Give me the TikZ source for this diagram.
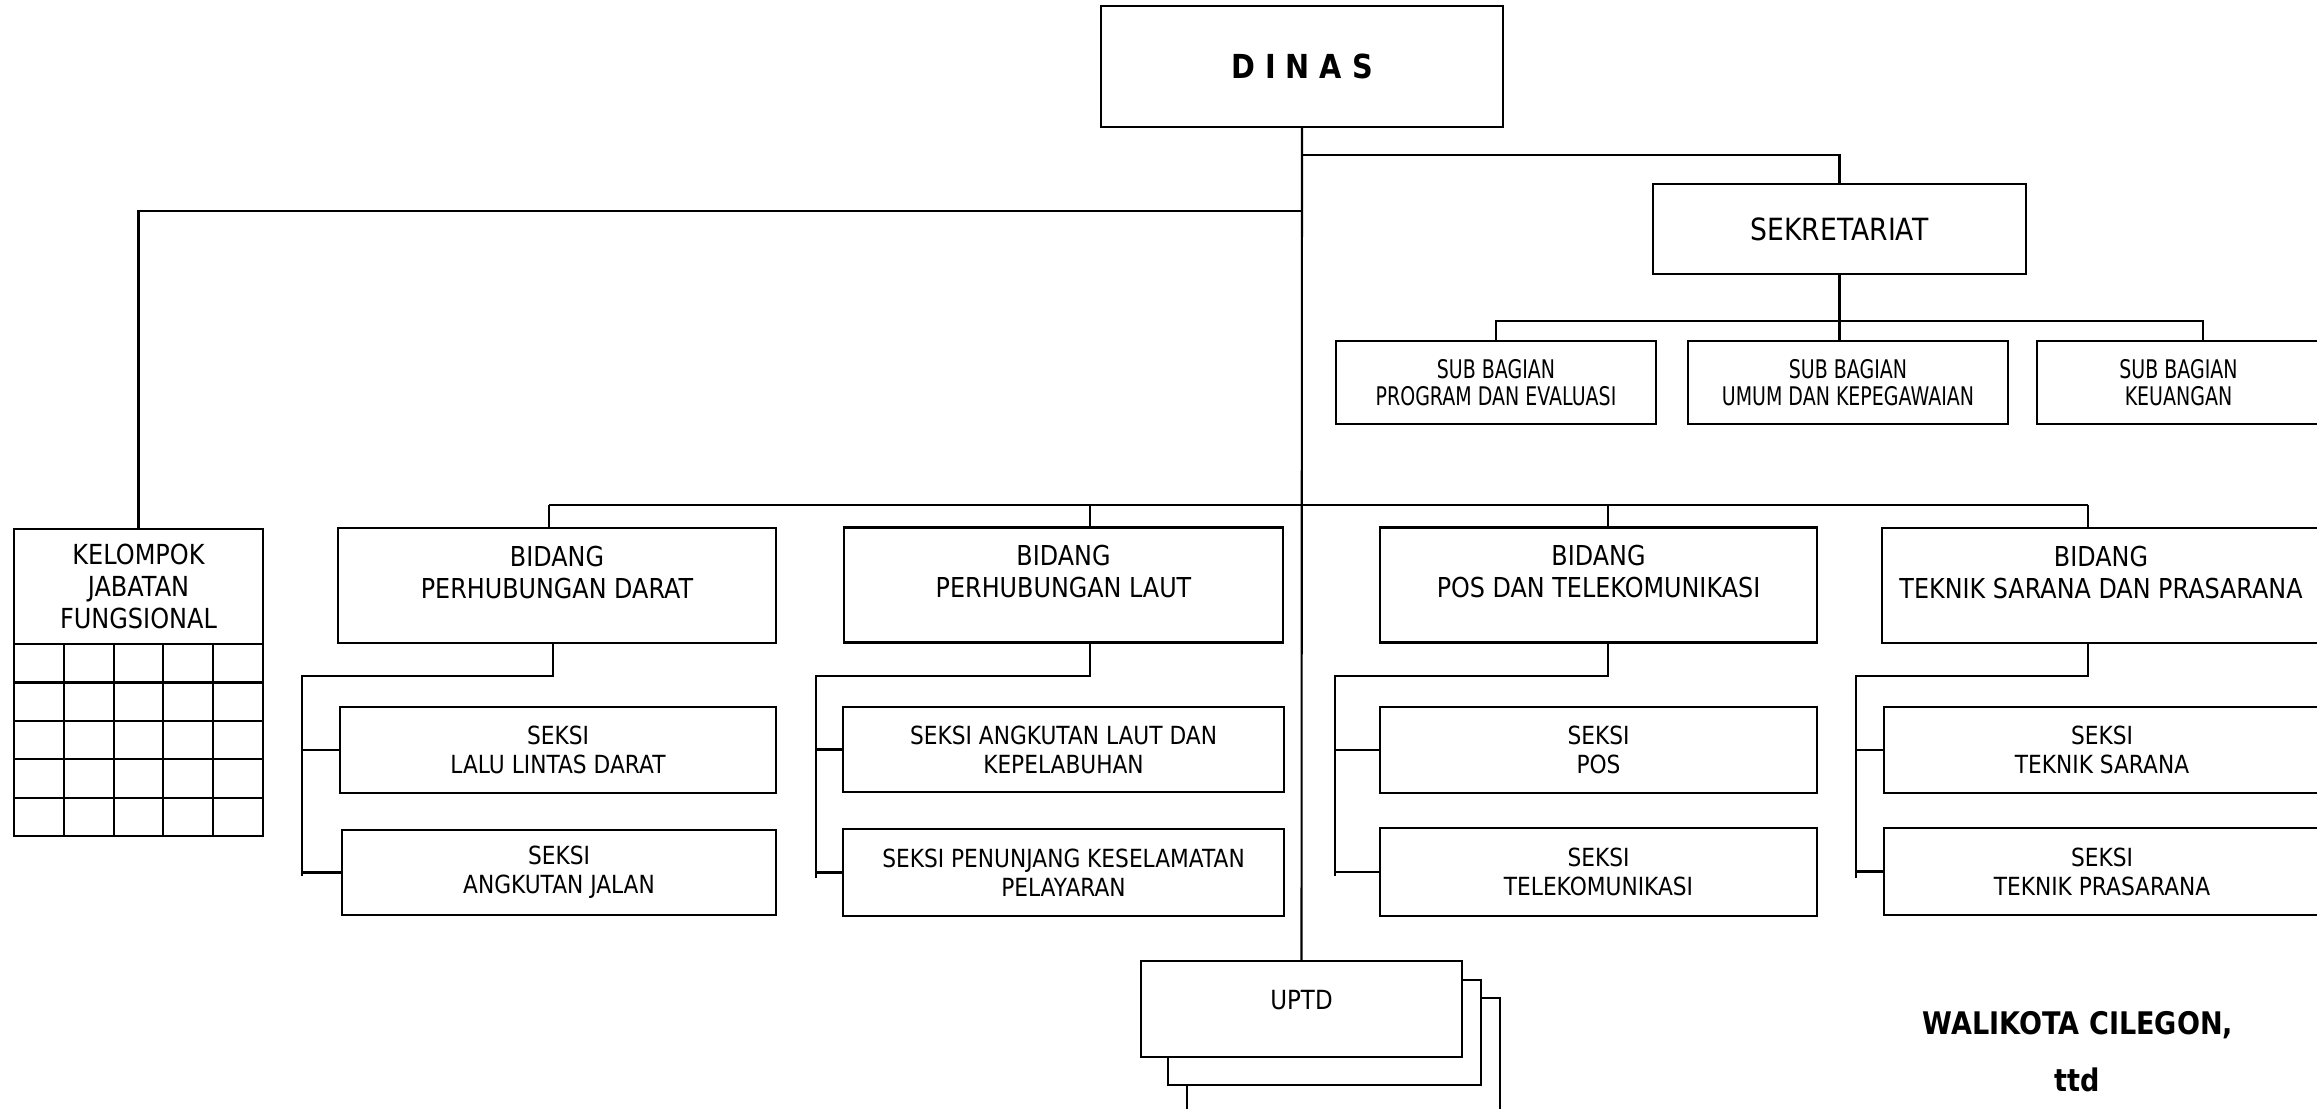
\documentclass[tikz,border=0pt]{standalone}
\usepackage{fontspec}
\setmainfont{DejaVu Sans}[FakeStretch=0.87]
\newfontfamily\subfont{DejaVu Sans}[FakeStretch=0.74]
\usetikzlibrary{positioning}
\tikzset{
	box/.style={draw, fill=white, inner sep=0pt, outer sep=0pt, align=center},
	bidang/.style={box, minimum width=4.38cm, minimum height=1.15cm},
	seksi/.style={box, minimum width=4.36cm, minimum height=0.86cm, font=\fontsize{7.1pt}{8.3pt}\selectfont},
	subbag/.style={box, minimum width=3.2cm, minimum height=0.83cm, font=\subfont\fontsize{7.3pt}{7.7pt}\selectfont},
	toplabel/.style={anchor=north, inner sep=0pt, align=center, yshift=-0.17cm, font=\fontsize{7.8pt}{9.1pt}\selectfont},
	sign/.style={inner sep=0pt, font=\bfseries\fontsize{8.85pt}{10pt}\selectfont},
}
\begin{document}
\begin{tikzpicture}[x=0.01cm, y=-0.01cm, line width=0.6pt]
	\useasboundingbox (0,0) rectangle (2317,1108);
	\clip (0,0) rectangle (2317,1108);
	\node[box, minimum width=4.02cm, minimum height=1.21cm, font=\bfseries\fontsize{9.4pt}{11pt}\selectfont] (dinas) at (1302,66.5) {D I N A S};
	\node[box, minimum width=3.73cm, minimum height=0.9cm, font=\fontsize{8.7pt}{10pt}\selectfont] (sekre) at (1839.5,229) {SEKRETARIAT};
	\node[subbag] (sb1) at (1496,382.5) {SUB BAGIAN\\PROGRAM DAN EVALUASI};
	\node[subbag] (sb2) at (1848,382.5) {SUB BAGIAN\\UMUM DAN KEPEGAWAIAN};
	\node[subbag, minimum width=2.83cm] (sb3) at (2178.5,382.5) {SUB BAGIAN\\KEUANGAN};
	\node[box, minimum width=2.49cm, minimum height=1.15cm, font=\fontsize{7.85pt}{9.2pt}\selectfont] (kjf) at (138.5,586.5) {KELOMPOK\\JABATAN\\FUNGSIONAL};
	\node[box, minimum width=2.49cm, minimum height=1.92cm, below=0pt of kjf] (kjfgrid) {};
	\node[bidang, label={[toplabel]north:BIDANG\\PERHUBUNGAN DARAT}] (bd1) at (557,585.5) {};
	\node[bidang, minimum width=4.39cm, label={[toplabel]north:BIDANG\\PERHUBUNGAN LAUT}] (bd2) at (1063.5,585) {};
	\node[bidang, minimum width=4.37cm, label={[toplabel]north:BIDANG\\POS DAN TELEKOMUNIKASI}] (bd3) at (1598.5,585) {};
	\node[bidang, label={[toplabel]north:BIDANG\\TEKNIK SARANA DAN PRASARANA}] (bd4) at (2101,585.5) {};
	\node[seksi] (s11) at (558,750) {SEKSI\\LALU LINTAS DARAT};
	\node[seksi, minimum width=4.34cm, minimum height=0.85cm] (s12) at (559,872.5) {SEKSI\\ANGKUTAN JALAN};
	\node[seksi, minimum width=4.41cm, minimum height=0.85cm] (s21) at (1063.5,749.5) {SEKSI ANGKUTAN LAUT DAN\\KEPELABUHAN};
	\node[seksi, minimum width=4.41cm, minimum height=0.87cm] (s22) at (1063.5,872.5) {SEKSI PENUNJANG KESELAMATAN\\PELAYARAN};
	\node[seksi, minimum width=4.37cm] (s31) at (1598.5,750) {SEKSI\\POS};
	\node[seksi, minimum width=4.37cm, minimum height=0.88cm] (s32) at (1598.5,872) {SEKSI\\TELEKOMUNIKASI};
	\node[seksi] (s41) at (2102,750) {SEKSI\\TEKNIK SARANA};
	\node[seksi, minimum height=0.87cm] (s42) at (2102,871.5) {SEKSI\\TEKNIK PRASARANA};
	\node[box, minimum width=3.13cm, minimum height=1.32cm] (uptdc) at (1343.5,1064) {};
	\node[box, minimum width=3.13cm, minimum height=1.05cm] (uptdb) at (1324.5,1032.5) {};
	\node[box, minimum width=3.21cm, minimum height=0.96cm, label={[toplabel, yshift=-0.11cm, font=\fontsize{7.5pt}{9pt}\selectfont]north:UPTD}] (uptd) at (1301.5,1009) {};
	\node[sign] (walikota) at (2078,1025) {WALIKOTA CILEGON,};
	\node[sign] (ttd) at (2077,1080) {ttd};
	\foreach \c in {1,...,4}
		\draw ([xshift=\c*0.498cm]kjfgrid.north west) -- ([xshift=\c*0.498cm]kjfgrid.south west);
	\foreach \r in {1,...,4}
		\draw ([yshift=-\r*0.384cm]kjfgrid.north west) -- ([yshift=-\r*0.384cm]kjfgrid.north east);
	\coordinate (sbR) at (2203,321);
	\coordinate (busL) at (549,505);
	\coordinate (busR) at (2088,505);
	\draw (dinas.south) -- (uptd.north);
	\draw (dinas.south |- 0,155) -| (sekre.north);
	\draw (dinas.south |- 0,211) -| (kjf.north);
	\draw (sekre.south) -- (sekre.south |- sb2.north);
	\draw (sb1.north) |- (sbR) -- (sbR |- sb3.north);
	\draw (busL) -- (busR);
	\foreach \i/\bx in {1/549,2/1090,3/1608,4/2088}
		\draw (\bx,505) -- (bd\i.north -| \bx,0);
	\foreach \i/\dx/\lx/\ly in {1/553/302/876,2/1090/816/878,3/1608/1335/876,4/2088/1856/878}{
		\draw (bd\i.south -| \dx,0) -- (\dx,676) -| (\lx,\ly);
		\draw (s\i1.west) -- (s\i1.west -| \lx,0);
		\draw (s\i2.west) -- (s\i2.west -| \lx,0);
	}
\end{tikzpicture}
\end{document}
